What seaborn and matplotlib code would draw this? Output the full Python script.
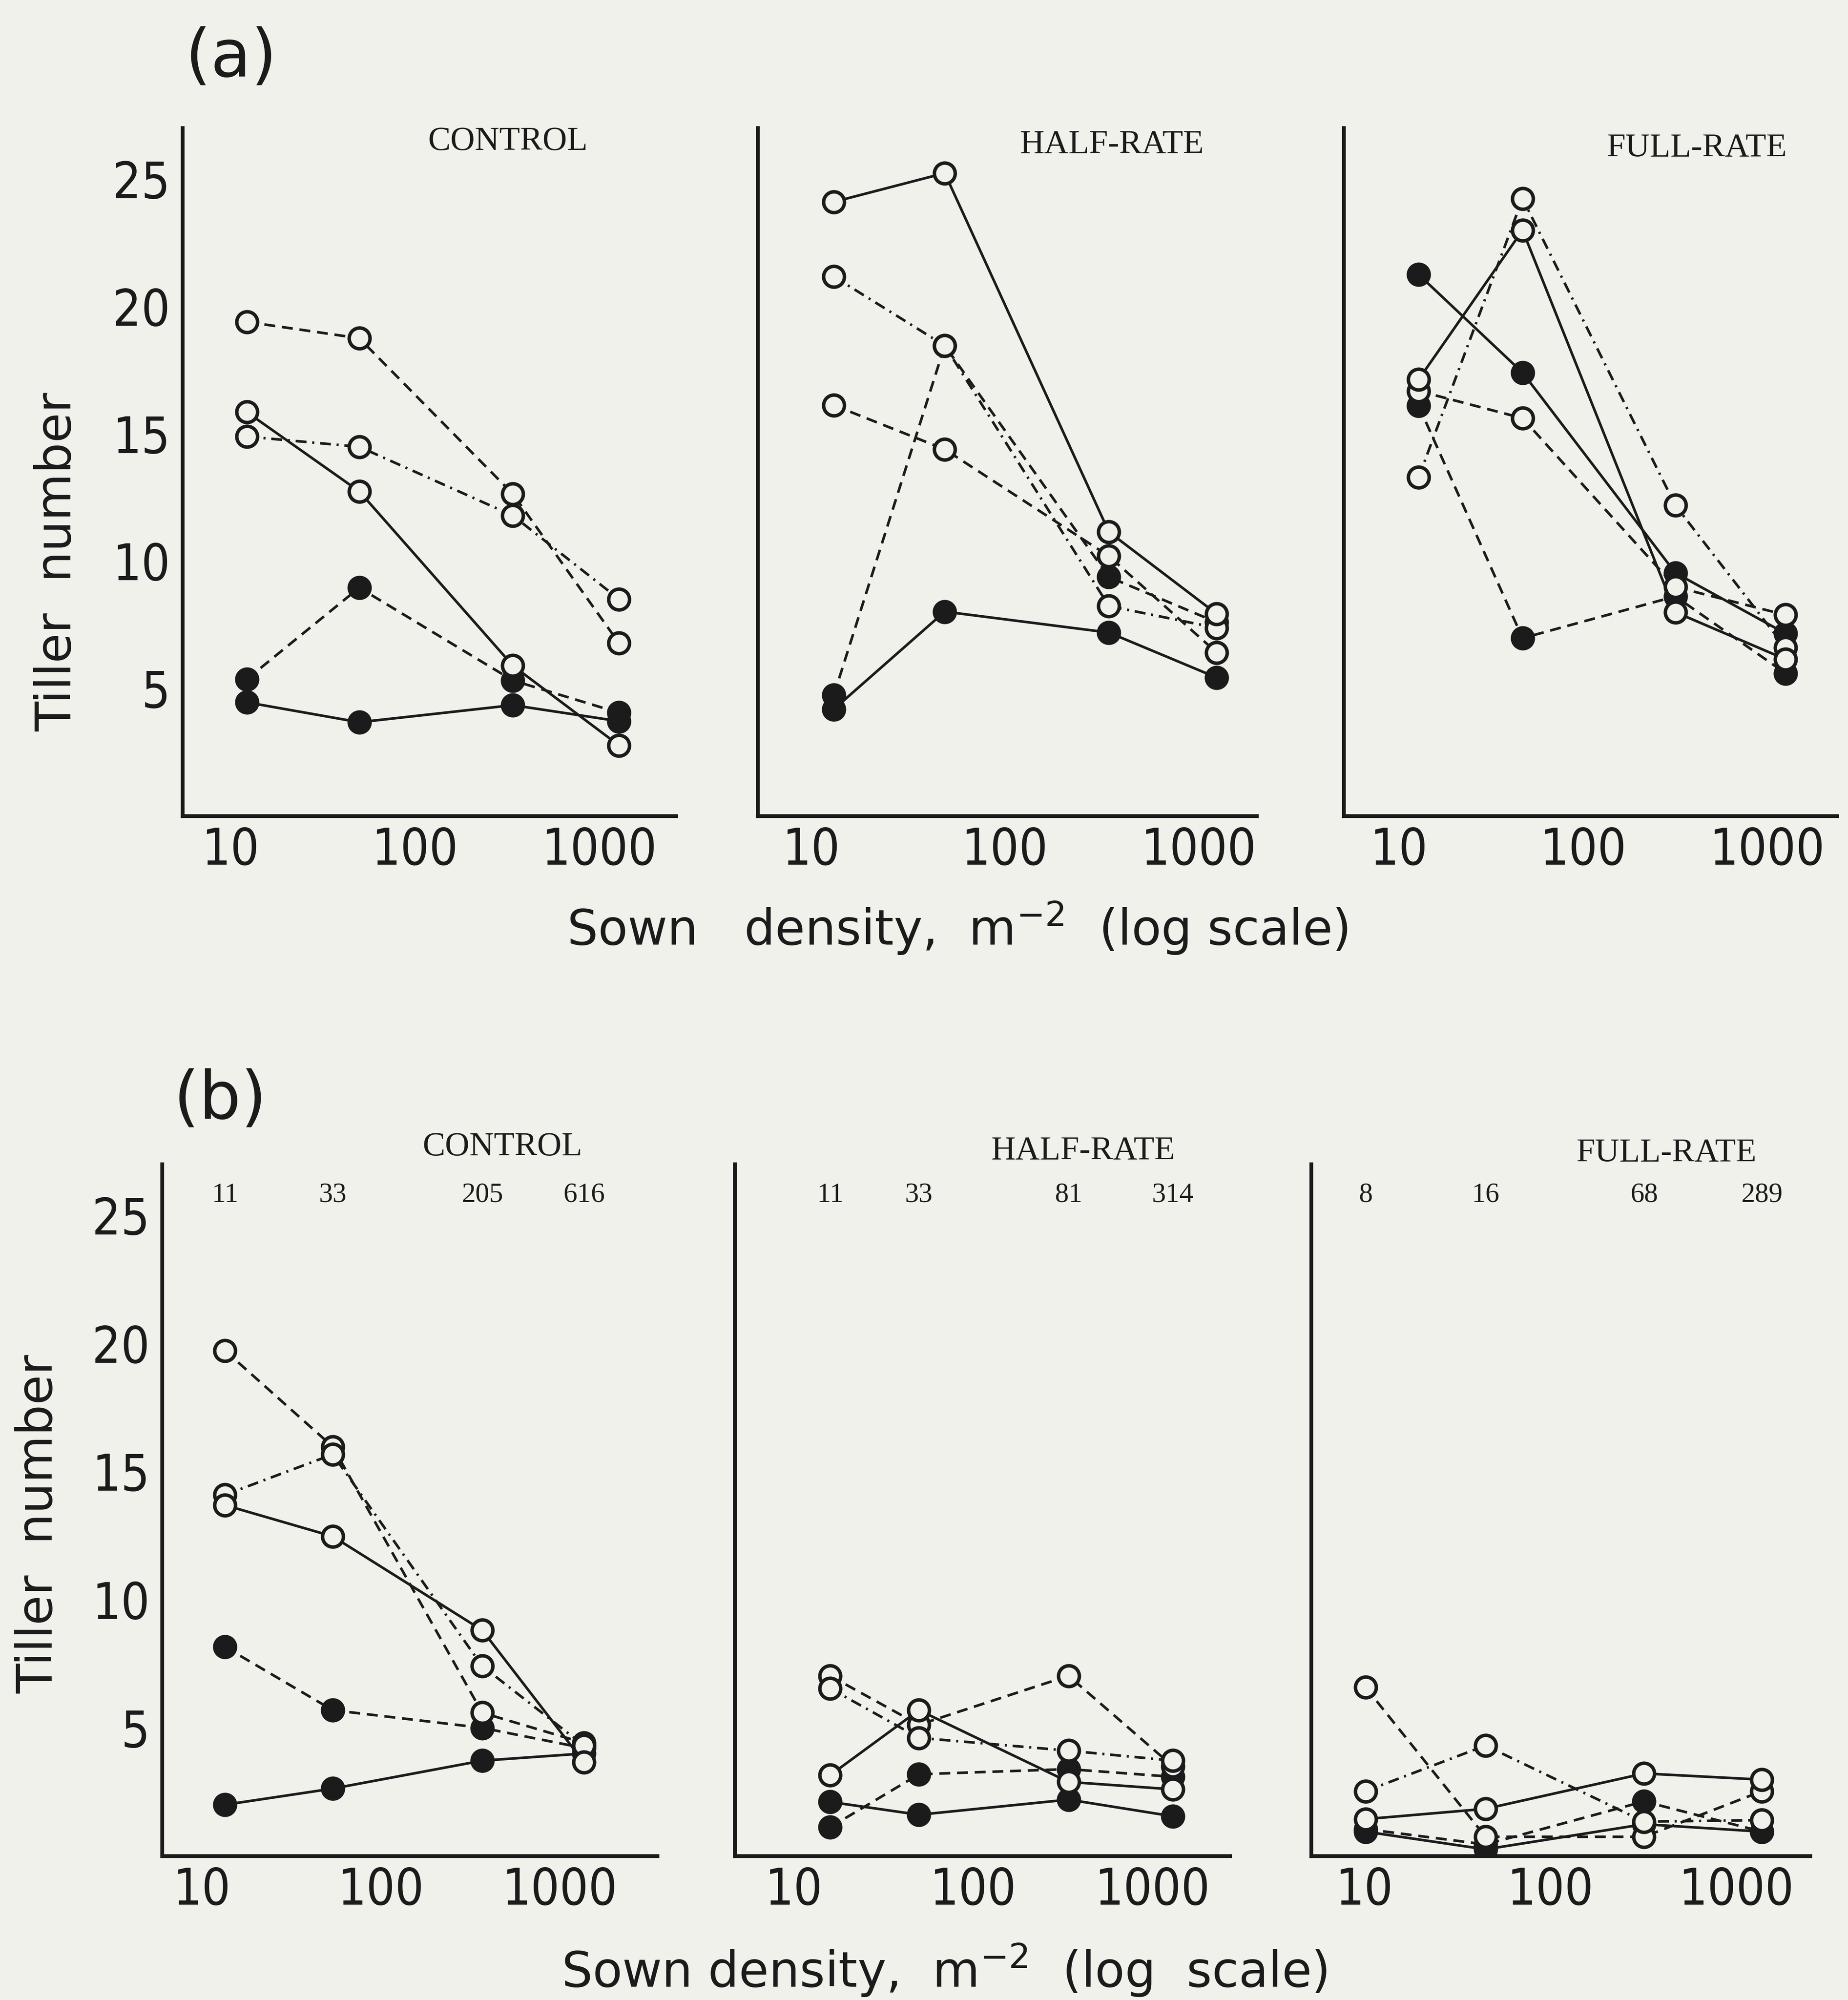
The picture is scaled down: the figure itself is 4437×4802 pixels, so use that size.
import matplotlib
matplotlib.use("Agg")
import matplotlib.pyplot as plt
import matplotlib.transforms as mtransforms
from matplotlib.ticker import NullLocator
from matplotlib import font_manager
import pandas as pd
import seaborn as sns

# ---------------- data ----------------
treatments = ["CONTROL", "HALF-RATE", "FULL-RATE"]
series_names = ["filled_solid", "filled_dashed", "open_dashed", "open_dashdot", "open_solid"]

# (a) sown density positions per panel
a_control_x = [12.3, 50, 340, 1280]
a_half_x = [13.1, 49, 345, 1245]
a_full_x = [12.8, 47, 318, 1263]

a_control_open_solid = [15.85, 12.74, 5.90, 2.77]
a_control_open_dashed = [19.39, 18.75, 12.64, 6.78]
a_control_open_dashdot = [14.89, 14.49, 11.79, 8.51]
a_control_filled_solid = [4.46, 3.68, 4.35, 3.72]
a_control_filled_dashed = [5.37, 8.96, 5.32, 4.05]

a_half_open_solid = [24.1, 25.23, 11.15, 7.93]
a_half_open_dashed = [16.12, 14.39, 10.20, 6.41]
a_half_open_dashdot = [21.17, 18.46, 8.24, 7.38]
a_half_filled_solid = [4.19, 8.02, 7.20, 5.43]
a_half_filled_dashed = [4.74, 18.46, 9.38, 7.6]

a_full_open_solid = [17.13, 22.99, 8.0, 6.15]
a_full_open_dashed = [16.68, 15.61, 8.99, 7.89]
a_full_open_dashdot = [13.29, 24.23, 12.19, 6.6]
a_full_filled_solid = [21.25, 17.4, 9.54, 7.16]
a_full_filled_dashed = [16.1, 6.98, 8.62, 5.6]

# (b)
b_control_x = [13.5, 54, 369, 1365]
b_half_x = [16.0, 50, 341, 1300]
b_full_x = [10.2, 45, 320, 1378]

b_control_open_solid = [13.69, 12.47, 8.81, 3.66]
b_control_open_dashed = [19.72, 15.97, 5.59, 4.41]
b_control_open_dashdot = [14.09, 15.67, 7.41, 4.31]
b_control_filled_solid = [2.0, 2.63, 3.72, 4.0]
b_control_filled_dashed = [8.16, 5.69, 5.0, 4.21]

b_half_open_solid = [3.15, 5.69, 2.89, 2.6]
b_half_open_dashed = [7.03, 5.12, 7.03, 3.5]
b_half_open_dashdot = [6.54, 4.61, 4.11, 3.72]
b_half_filled_solid = [2.11, 1.61, 2.2, 1.55]
b_half_filled_dashed = [1.12, 3.19, 3.39, 3.09]

b_full_open_solid = [1.44, 1.84, 3.22, 2.98]
b_full_open_dashed = [6.58, 0.75, 0.75, 2.53]
b_full_open_dashdot = [2.53, 4.31, 1.34, 1.4]
b_full_filled_solid = [0.95, 0.26, 1.24, 0.95]
b_full_filled_dashed = [1.05, 0.45, 2.13, 0.95]

# established-density labels shown above panels in (b)
b_control_labels = ["11", "33", "205", "616"]
b_half_labels = ["11", "33", "81", "314"]
b_full_labels = ["8", "16", "68", "289"]

y_ticks = [5, 10, 15, 20, 25]
x_ticks = [10, 100, 1000]
x_tick_labels = ["10", "100", "1000"]


def panel_frame(x, **series):
    rows = []
    for name, vals in series.items():
        for xi, yi in zip(x, vals):
            rows.append({"density": xi, "tillers": yi, "series": name})
    return pd.DataFrame(rows)


panels_a = [
    panel_frame(a_control_x, open_solid=a_control_open_solid, open_dashed=a_control_open_dashed,
                open_dashdot=a_control_open_dashdot, filled_solid=a_control_filled_solid,
                filled_dashed=a_control_filled_dashed),
    panel_frame(a_half_x, open_solid=a_half_open_solid, open_dashed=a_half_open_dashed,
                open_dashdot=a_half_open_dashdot, filled_solid=a_half_filled_solid,
                filled_dashed=a_half_filled_dashed),
    panel_frame(a_full_x, open_solid=a_full_open_solid, open_dashed=a_full_open_dashed,
                open_dashdot=a_full_open_dashdot, filled_solid=a_full_filled_solid,
                filled_dashed=a_full_filled_dashed),
]
panels_b = [
    panel_frame(b_control_x, open_solid=b_control_open_solid, open_dashed=b_control_open_dashed,
                open_dashdot=b_control_open_dashdot, filled_solid=b_control_filled_solid,
                filled_dashed=b_control_filled_dashed),
    panel_frame(b_half_x, open_solid=b_half_open_solid, open_dashed=b_half_open_dashed,
                open_dashdot=b_half_open_dashdot, filled_solid=b_half_filled_solid,
                filled_dashed=b_half_filled_dashed),
    panel_frame(b_full_x, open_solid=b_full_open_solid, open_dashed=b_full_open_dashed,
                open_dashdot=b_full_open_dashdot, filled_solid=b_full_filled_solid,
                filled_dashed=b_full_filled_dashed),
]
b_x_sets = [b_control_x, b_half_x, b_full_x]
b_label_sets = [b_control_labels, b_half_labels, b_full_labels]

# ---------------- style ----------------
sns.set_theme(style="white")
SANS = ["DejaVu Sans"]
SERIF = ["Liberation Serif", "DejaVu Serif"]
plt.rcParams["font.family"] = SANS

# a condensed sans for the numbers if one is installed
TICK_FP = font_manager.FontProperties(family="DejaVu Sans", stretch="condensed", size=29)

BG = "#f0f1eb"
INK = "#1b1b1b"

DASH = (0, (4.2, 2.6))
DASHDOT = (0, (4.2, 2.2, 0.8, 2.2))
styles = {
    "open_solid": (False, "-"),
    "open_dashed": (False, DASH),
    "open_dashdot": (False, DASHDOT),
    "filled_solid": (True, "-"),
    "filled_dashed": (True, DASH),
}

fig = plt.figure(figsize=(4437 / 300, 4802 / 300), dpi=300, facecolor=BG)

# axes rectangles [left, bottom, width, height] in figure fraction
rects_a = [[0.0987, 0.592, 0.267, 0.344], [0.410, 0.592, 0.270, 0.344], [0.727, 0.592, 0.267, 0.344]]
rects_b = [[0.0876, 0.072, 0.268, 0.346], [0.3975, 0.072, 0.268, 0.346], [0.7095, 0.072, 0.270, 0.346]]
xlims_a = [(5.5, 2600), (5.3, 2000), (5.0, 2400)]
xlims_b = [(6.0, 3500), (4.7, 2700), (5.2, 2500)]
title_pos_a = [(0.66, 0.98), (0.71, 0.975), (0.716, 0.97)]
title_pos_b = [(0.688, 1.024), (0.704, 1.018), (0.712, 1.015)]


def draw_panel(ax, df, xlim, show_ylabels):
    ax.set_facecolor(BG)
    ax.set_xscale("log")
    for name in series_names:
        filled, ls = styles[name]
        sub = df[df["series"] == name]
        sns.lineplot(data=sub, x="density", y="tillers", ax=ax, estimator=None, sort=False,
                     legend=False, color=INK, linewidth=1.5, linestyle=ls,
                     marker="o", markersize=12,
                     markerfacecolor=INK if filled else BG,
                     markeredgecolor=INK, markeredgewidth=2.0,
                     zorder=3 if filled else 4)
    ax.set_xlim(*xlim)
    ax.set_ylim(0, 27)
    ax.set_xticks(x_ticks)
    ax.set_xticklabels(x_tick_labels)
    ax.xaxis.set_minor_locator(NullLocator())
    ax.set_yticks(y_ticks)
    if show_ylabels:
        ax.set_yticklabels([str(v) for v in y_ticks])
    else:
        ax.set_yticklabels([])
    ax.set_xlabel("")
    ax.set_ylabel("")
    for s in ["top", "right"]:
        ax.spines[s].set_visible(False)
    for s in ["left", "bottom"]:
        ax.spines[s].set_color(INK)
        ax.spines[s].set_linewidth(2.2)
    ax.tick_params(axis="both", which="major", direction="in", length=10, width=2.0,
                   colors=INK, labelcolor=INK)
    ax.tick_params(axis="x", pad=6)
    ax.tick_params(axis="y", pad=7)
    for lab in ax.get_xticklabels() + ax.get_yticklabels():
        lab.set_fontproperties(TICK_FP)
    ax.grid(False)


for i in range(3):
    ax = fig.add_axes(rects_a[i])
    draw_panel(ax, panels_a[i], xlims_a[i], i == 0)
    tx, ty = title_pos_a[i]
    ax.text(tx, ty, treatments[i], transform=ax.transAxes, ha="center", va="center",
            family=SERIF, fontsize=19.5, color=INK, clip_on=False)

for i in range(3):
    ax = fig.add_axes(rects_b[i])
    draw_panel(ax, panels_b[i], xlims_b[i], i == 0)
    tx, ty = title_pos_b[i]
    ax.text(tx, ty, treatments[i], transform=ax.transAxes, ha="center", va="center",
            family=SERIF, fontsize=19.5, color=INK, clip_on=False)
    trans = mtransforms.blended_transform_factory(ax.transData, ax.transAxes)
    for xv, lab in zip(b_x_sets[i], b_label_sets[i]):
        ax.text(xv, 0.955, lab, transform=trans, ha="center", va="center",
                family=SERIF, fontsize=16, color=INK)

# panel letters
fig.text(0.125, 0.971, "(a)", fontsize=38, color=INK, ha="center", va="center")
fig.text(0.119, 0.450, "(b)", fontsize=38, color=INK, ha="center", va="center")

# axis labels
fig.text(0.031, 0.719, "Tiller  number", rotation=90, fontsize=28, color=INK,
         ha="center", va="center")
fig.text(0.021, 0.238, "Tiller  number", rotation=90, fontsize=28, color=INK,
         ha="center", va="center")
fig.text(0.518, 0.536, r"Sown   density,  m$^{-2}$  (log scale)", fontsize=28, color=INK,
         ha="center", va="center")
fig.text(0.511, 0.0150, r"Sown density,  m$^{-2}$  (log  scale)", fontsize=28, color=INK,
         ha="center", va="center")

fig.savefig("out.png", dpi=300, facecolor=BG)
